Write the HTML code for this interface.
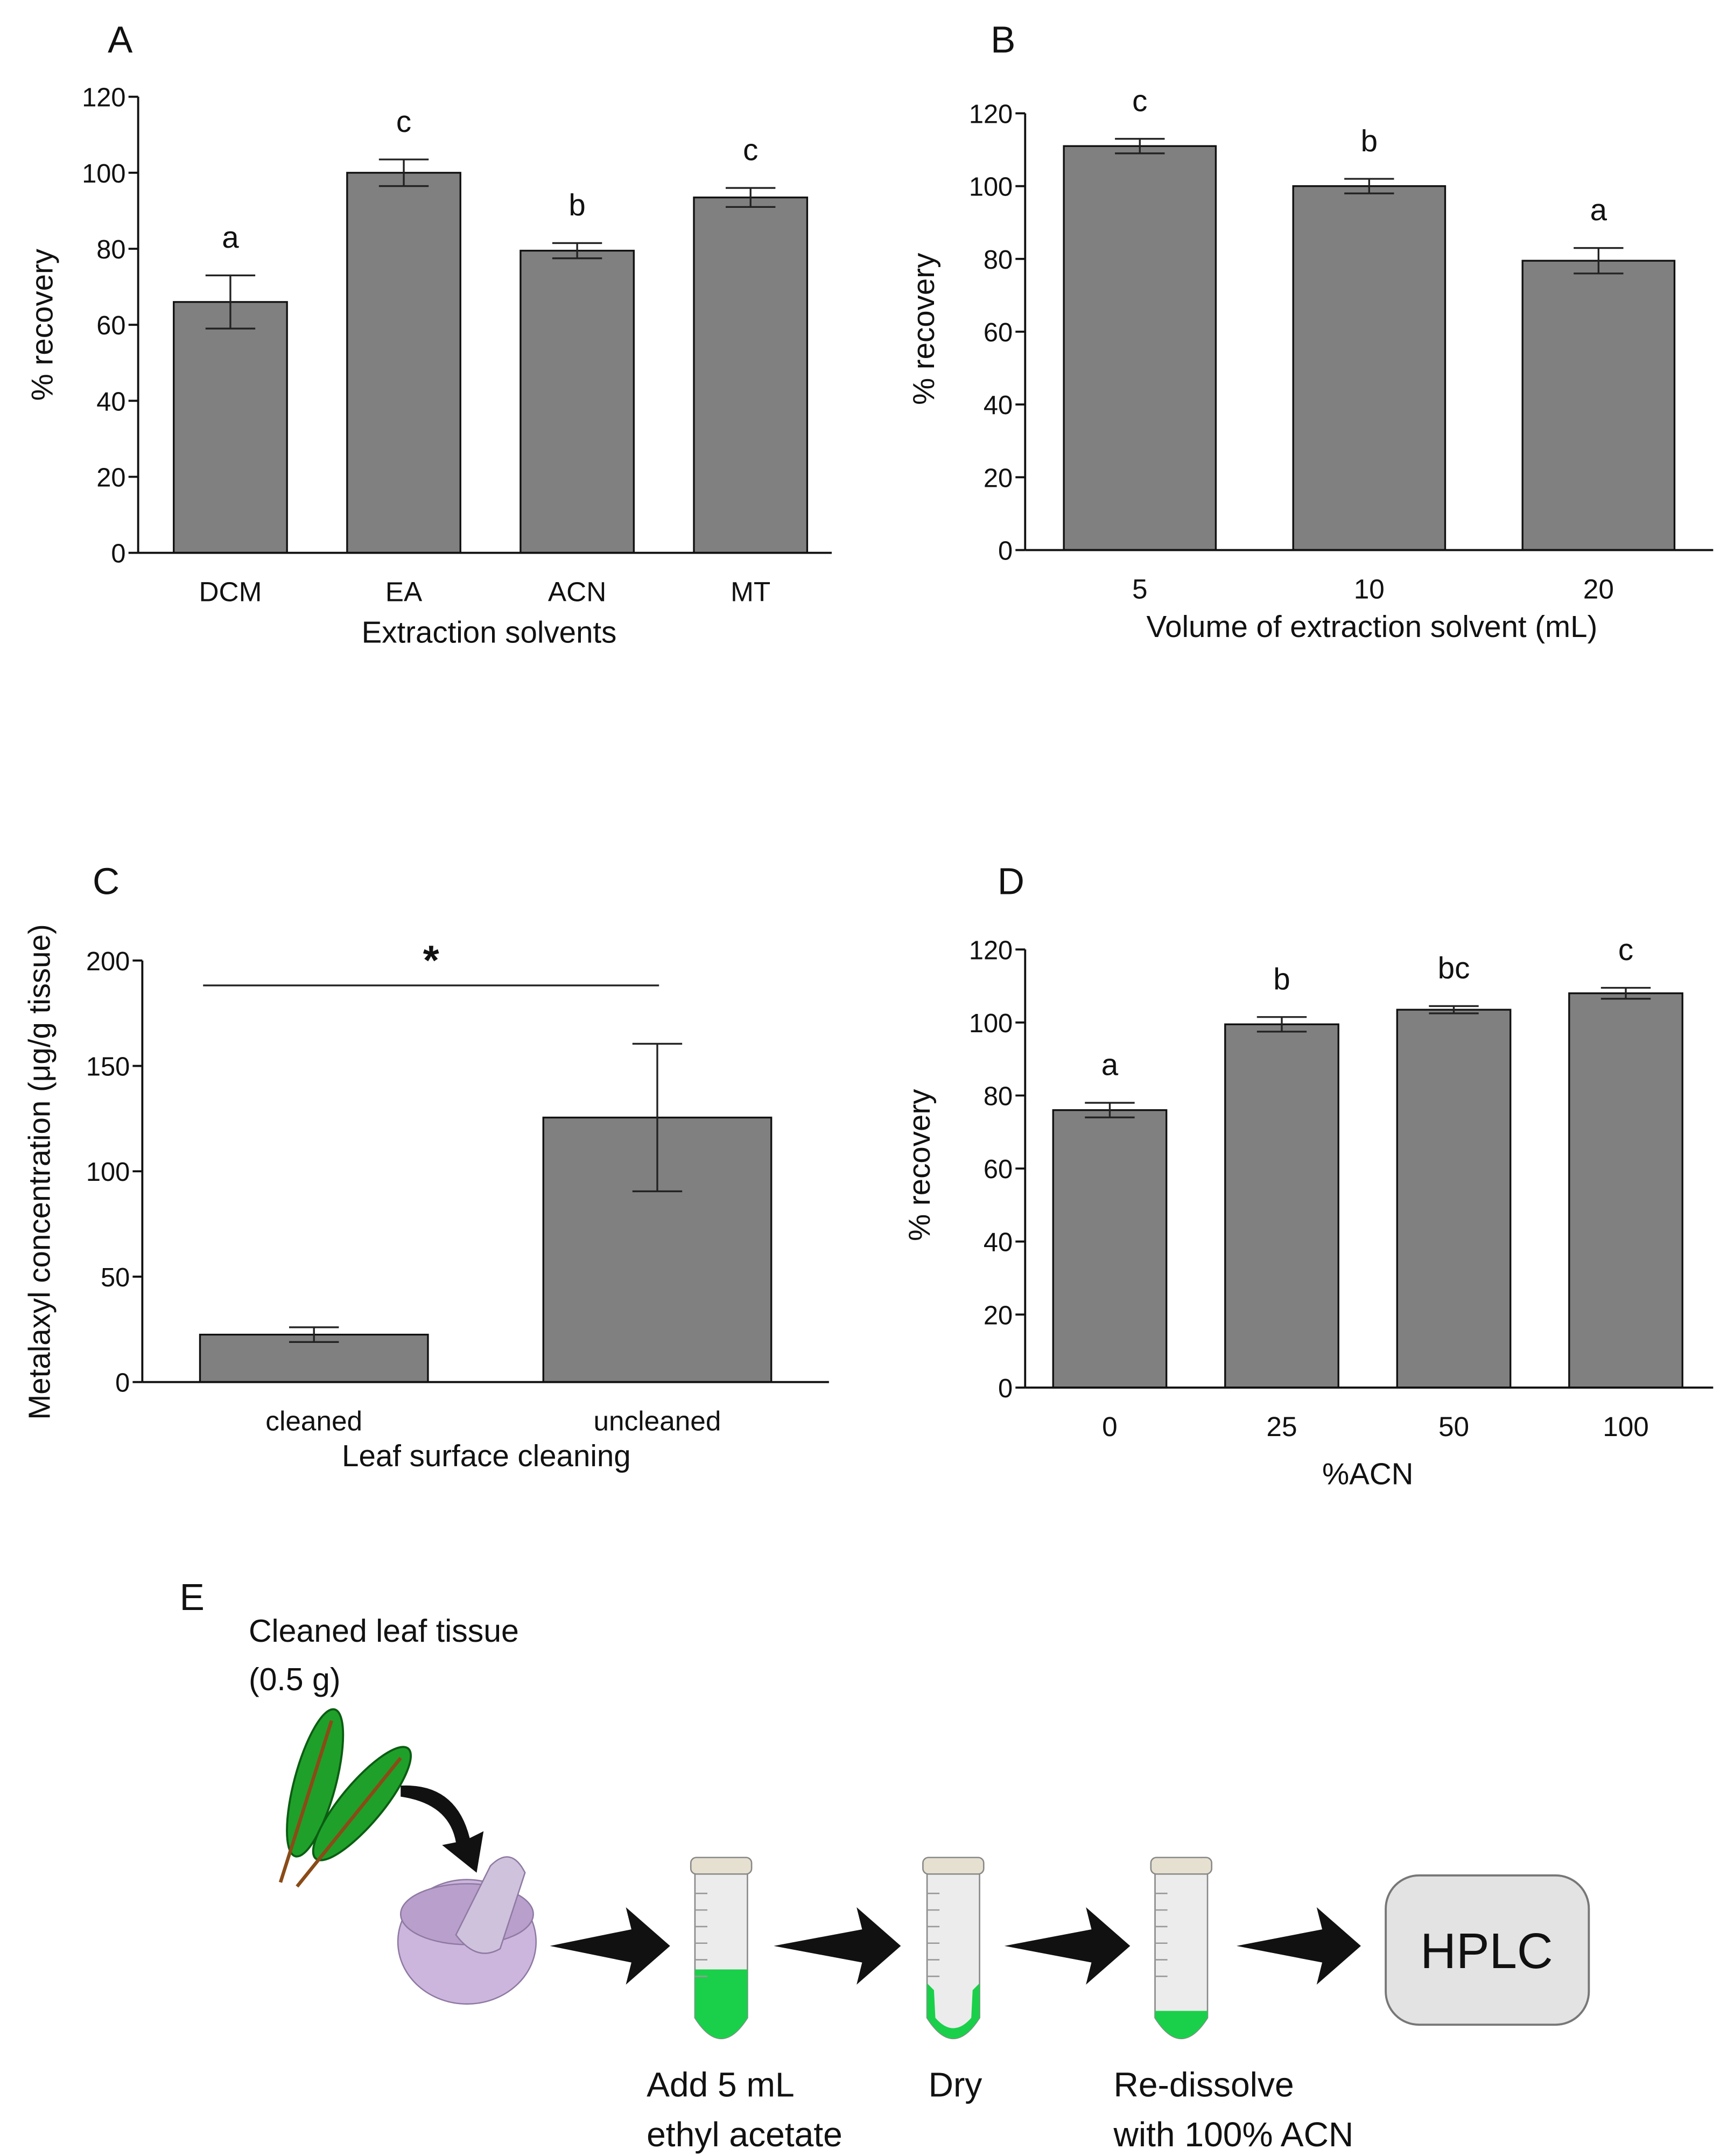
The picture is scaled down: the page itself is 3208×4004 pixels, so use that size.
<!DOCTYPE html>
<html><head><meta charset="utf-8"><style>
html,body{margin:0;padding:0;background:#fff}
svg{display:block}
text{font-family:"Liberation Sans",sans-serif;fill:#111}
</style></head><body>
<svg id="fig" width="3208" height="4004" viewBox="0 0 1250 1560" preserveAspectRatio="none" xmlns="http://www.w3.org/2000/svg">
<g id="charts"></g>
<g id="panelE">
<text x="130" y="1165" font-size="27">E</text>
<text x="180" y="1188" font-size="23">Cleaned leaf tissue</text>
<text x="180" y="1223" font-size="23">(0.5 g)</text>
<g>
<ellipse cx="228" cy="1290" rx="15" ry="55" transform="rotate(15 228 1290)" fill="#1fa02a" stroke="#0b5d12" stroke-width="1.5"/>
<line x1="203" y1="1362" x2="240" y2="1245" stroke="#8a4b18" stroke-width="2.5"/>
<ellipse cx="262" cy="1305" rx="15" ry="52" transform="rotate(40 262 1305)" fill="#1fa02a" stroke="#0b5d12" stroke-width="1.5"/>
<line x1="215" y1="1365" x2="290" y2="1272" stroke="#8a4b18" stroke-width="2.5"/>
</g>
<path d="M290 1292 Q330 1290 340 1330 L350 1325 L345 1355 L320 1335 L330 1333 Q325 1305 290 1300 Z" fill="#111"/>
<g>
<ellipse cx="338" cy="1405" rx="50" ry="45" fill="#cdb6dd" stroke="#8f7aa3"/>
<ellipse cx="338" cy="1385" rx="48" ry="22" fill="#b9a0cc" stroke="#8f7aa3"/>
<path d="M330 1400 L355 1350 Q370 1335 380 1355 L362 1410 Q345 1420 330 1400Z" fill="#cfc2dc" stroke="#8f7aa3"/>
</g>
<g id="arrows"></g>
<g id="tubes"></g>
<rect x="1003" y="1357" width="147" height="108" rx="24" fill="#e3e3e3" stroke="#777" stroke-width="1.5"/>
<text x="1076" y="1424" font-size="36" text-anchor="middle">HPLC</text>
<text x="468" y="1517" font-size="25">Add 5 mL</text>
<text x="468" y="1553" font-size="25">ethyl acetate</text>
<text x="672" y="1517" font-size="25">Dry</text>
<text x="806" y="1517" font-size="25">Re-dissolve</text>
<text x="806" y="1553" font-size="25">with 100% ACN</text>
</g>
</svg>
<script>
const NS="http://www.w3.org/2000/svg";
// Panel A data
const catsA=["DCM","EA","ACN","MT"];
const valsA=[66,100,79.5,93.5];
const errA=[7,3.5,2,2.5];
const lettersA=["a","c","b","c"];
const ticksA=[0,20,40,60,80,100,120];
// Panel B data
const catsB=["5","10","20"];
const valsB=[111,100,79.5];
const errB=[2,2,3.5];
const lettersB=["c","b","a"];
const ticksB=[0,20,40,60,80,100,120];
// Panel C data
const catsC=["cleaned","uncleaned"];
const valsC=[22.5,125.5];
const errC=[3.5,35];
const ticksC=[0,50,100,150,200];
// Panel D data
const catsD=["0","25","50","100"];
const valsD=[76,99.5,103.5,108];
const errD=[2,2,1,1.5];
const lettersD=["a","b","bc","c"];
const ticksD=[0,20,40,60,80,100,120];

const root=document.getElementById('charts');
function el(t,a,p){const e=document.createElementNS(NS,t);for(const k in a)e.setAttribute(k,a[k]);(p||root).appendChild(e);return e;}

function panel(o){
  const g=el('g',{});
  
  
  const ymax=o.ticks[o.ticks.length-1];
  const Y=v=>o.y0-(v/ymax)*(o.y0-o.ytop);
  const step=(o.xend-o.ax)/o.cats.length;
  const X=i=>o.ax+step*(i+0.5)+(o.shift||0);
  o.vals.forEach((v,i)=>{
    const b=el('rect',{x:X(i)-o.bw/2,y:Y(v),width:o.bw,height:o.y0-Y(v),fill:'#808080',stroke:'#111','stroke-width':1.3},g);
    
    
    const e=o.errs[i];
    const eg=el('g',{stroke:'#222','stroke-width':1.3},g);
    
    
    el('line',{x1:X(i),x2:X(i),y1:Y(v+e),y2:Y(v-e)},eg);
    el('line',{x1:X(i)-18,x2:X(i)+18,y1:Y(v+e),y2:Y(v+e)},eg);
    el('line',{x1:X(i)-18,x2:X(i)+18,y1:Y(v-e),y2:Y(v-e)},eg);
    if(o.letters){const t=el('text',{x:X(i),y:Y(v+e)-20,'font-size':22,'text-anchor':'middle'},g);t.textContent=o.letters[i];
      }
    const tl=el('text',{x:X(i),y:o.y0+35,'font-size':20,'text-anchor':'middle'},g);tl.textContent=o.cats[i];
    
  });
  const ax=el('g',{stroke:'#111','stroke-width':1.5},g);
  
  el('line',{x1:o.ax,x2:o.ax,y1:o.ytop,y2:o.y0},ax);
  el('line',{x1:o.ax,x2:o.xend,y1:o.y0,y2:o.y0},ax);
  o.ticks.forEach(t=>{
    el('line',{x1:o.ax-7,x2:o.ax,y1:Y(t),y2:Y(t)},ax);
    const tt=el('text',{x:o.ax-9,y:Y(t)+7,'font-size':19,'text-anchor':'end'},g);tt.textContent=t;
    
  });
  const xl=el('text',{x:o.xlx,y:o.xly,'font-size':22,'text-anchor':'middle'},g);xl.textContent=o.xlabel;
  
  const yl=el('text',{x:0,y:0,'font-size':22,'text-anchor':'middle',transform:`translate(${o.ylx},${o.yly}) rotate(-90)`},g);yl.textContent=o.ylabel;
  
  const pl=el('text',{x:o.plx,y:o.ply,'font-size':27},g);pl.textContent=o.id.toUpperCase();
  
  return {g,X,Y};
}
panel({id:'a',cats:catsA,vals:valsA,errs:errA,letters:lettersA,ticks:ticksA,ax:100,xend:602,y0:400,ytop:70,bw:82,shift:4,
  xlabel:'Extraction solvents',xlx:354,xly:465,ylabel:'% recovery',ylx:38,yly:235,plx:78,ply:38});
panel({id:'b',cats:catsB,vals:valsB,errs:errB,letters:lettersB,ticks:ticksB,ax:742,xend:1240,y0:398,ytop:82,bw:110,shift:0,
  xlabel:'Volume of extraction solvent (mL)',xlx:993,xly:461,ylabel:'% recovery',ylx:676,yly:238,plx:717,ply:38});
const pc=panel({id:'c',cats:catsC,vals:valsC,errs:errC,ticks:ticksC,ax:103,xend:600,y0:1000,ytop:695,bw:165,shift:0,
  xlabel:'Leaf surface cleaning',xlx:352,xly:1061,ylabel:'Metalaxyl concentration (μg/g tissue)',ylx:36,yly:848,plx:67,ply:647});
el('line',{x1:147,x2:477,y1:713,y2:713,stroke:'#222','stroke-width':1.3},pc.g);
const st=el('text',{x:312,y:705,'font-size':30,'text-anchor':'middle','font-weight':'bold'},pc.g);st.textContent='*';

panel({id:'d',cats:catsD,vals:valsD,errs:errD,letters:lettersD,ticks:ticksD,ax:742,xend:1240,y0:1004,ytop:687,bw:82,shift:-1,
  xlabel:'%ACN',xlx:990,xly:1074,ylabel:'% recovery',ylx:673,yly:843,plx:722,ply:647});

const ag=document.getElementById('arrows');
[[398,485],[560,652],[727,818],[895,985]].forEach(a=>{
  const y=1408;
  el('path',{d:`M${a[0]} ${y} L${a[1]-28} ${y-12} L${a[1]-32} ${y-28} L${a[1]} ${y} L${a[1]-32} ${y+28} L${a[1]-28} ${y+12} Z`,fill:'#111'},ag);
});
const tg=document.getElementById('tubes');
[[522,'full'],[690,'dry'],[855,'bottom']].forEach(t=>{
  const x=t[0];const g=el('g',{},tg);
  
  el('path',{d:`M${x-19} 1355 L${x-19} 1460 Q${x} 1490 ${x+19} 1460 L${x+19} 1355 Z`,fill:'#ececec',stroke:'#888'},g);
  if(t[1]==='full')el('path',{d:`M${x-19} 1425 L${x-19} 1460 Q${x} 1490 ${x+19} 1460 L${x+19} 1425 Z`,fill:'#1ad04a'},g);
  if(t[1]==='bottom')el('path',{d:`M${x-19} 1455 L${x-19} 1460 Q${x} 1490 ${x+19} 1460 L${x+19} 1455 Z`,fill:'#1ad04a'},g);
  if(t[1]==='dry')el('path',{d:`M${x-19} 1435 L${x-19} 1460 Q${x} 1490 ${x+19} 1460 L${x+19} 1435 L${x+14} 1440 L${x+13} 1460 Q${x} 1475 ${x-13} 1460 L${x-14} 1440Z`,fill:'#1ad04a'},g);
  el('rect',{x:x-22,y:1344,width:44,height:12,rx:4,fill:'#e6e0d0',stroke:'#888'},g);
  for(let k=0;k<6;k++)el('line',{x1:x-19,x2:x-10,y1:1370+k*12,y2:1370+k*12,stroke:'#999'},g);
});
</script>
</body></html>
